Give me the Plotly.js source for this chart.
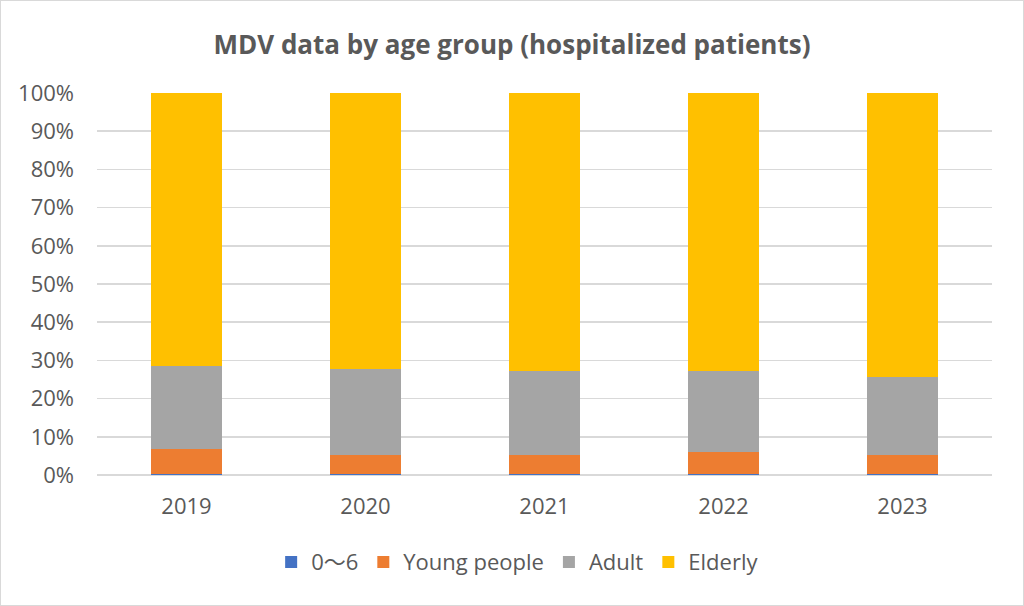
<!DOCTYPE html>
<html>
<head>
<meta charset="utf-8">
<script src="https://cdn.plot.ly/plotly-3.0.1.min.js"></script>
<style>
html,body{margin:0;padding:0;background:#fff;}
#chart{width:1022px;height:604px;border:1px solid #d9d9d9;}
</style>
</head>
<body>
<div id="chart"></div>
<script>
const years = ["2019", "2020", "2021", "2022", "2023"];
const seriesNames = ["0～6", "Young people", "Adult", "Elderly"];
const age0to6 = [0.3, 0.3, 0.3, 0.3, 0.3];
const young = [6.4, 4.9, 4.9, 5.6, 4.9];
const adult = [21.9, 22.6, 22.0, 21.3, 20.5];
const elderly = [71.4, 72.2, 72.8, 72.8, 74.3];
const colors = ["#4472c4", "#ed7d31", "#a5a5a5", "#ffc000"];
const yTicks = [0, 10, 20, 30, 40, 50, 60, 70, 80, 90, 100];

const values = [age0to6, young, adult, elderly];
const traces = values.map((v, i) => ({
  type: "bar",
  name: seriesNames[i],
  x: years,
  y: v,
  marker: {color: colors[i], line: {width: 0}},
  hoverinfo: "x+y+name"
}));

const fam = "'Open Sans', 'Noto Sans CJK JP', sans-serif";
const layout = {
  width: 1022, height: 604,
  barmode: "stack",
  bargap: 0.6,
  paper_bgcolor: "#fff",
  plot_bgcolor: "#fff",
  margin: {l: 96, r: 31, t: 92, b: 130},
  title: {
    text: "<b>MDV data by age group (hospitalized patients)</b>",
    font: {family: fam, color: "#595959", size: 26},
    x: 0.5, xanchor: "center", y: 0.928, yanchor: "middle"
  },
  xaxis: {
    type: "category",
    tickfont: {family: fam, color: "#595959", size: 22},
    showgrid: false, showline: false, ticks: "",
    ticklabelstandoff: 16
  },
  yaxis: {
    range: [0, 100],
    tickvals: yTicks,
    ticktext: yTicks.map(t => t + "%"),
    tickfont: {family: fam, color: "#595959", size: 22},
    gridcolor: "#d9d9d9", gridwidth: 1.5,
    zeroline: true, zerolinecolor: "#d9d9d9", zerolinewidth: 1.5,
    showline: false, ticks: "",
    ticklabelstandoff: 22
  },
  legend: {
    orientation: "h",
    x: 0.47, xanchor: "center",
    y: -0.228, yanchor: "middle",
    font: {family: fam, color: "#595959", size: 22},
    traceorder: "normal",
    itemwidth: 30
  },
  showlegend: true
};

Plotly.newPlot("chart", traces, layout, {displayModeBar: false, staticPlot: true});
</script>
</body>
</html>
